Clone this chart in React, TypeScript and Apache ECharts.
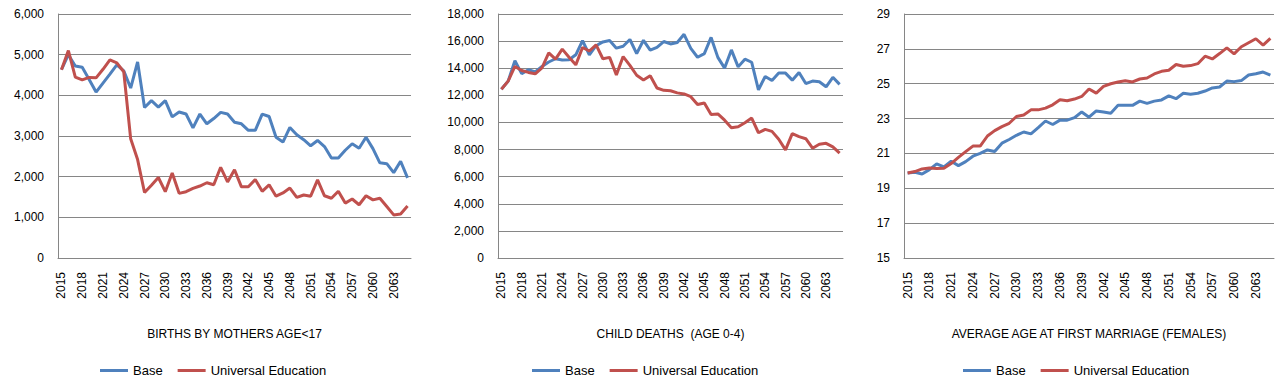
import React, { useEffect, useRef } from "react";
import * as echarts from "echarts";

const years = [
  "2015", "2016", "2017", "2018", "2019", "2020", "2021", "2022", "2023", "2024",
  "2025", "2026", "2027", "2028", "2029", "2030", "2031", "2032", "2033", "2034",
  "2035", "2036", "2037", "2038", "2039", "2040", "2041", "2042", "2043", "2044",
  "2045", "2046", "2047", "2048", "2049", "2050", "2051", "2052", "2053", "2054",
  "2055", "2056", "2057", "2058", "2059", "2060", "2061", "2062", "2063", "2064",
  "2065",
];

const seriesNames = ["Base", "Universal Education"];

const birthsBase = [
  4630, 5000, 4720, 4690, 4390, 4080, 4300, 4520, 4750, 4600,
  4180, 4820, 3700, 3870, 3710, 3870, 3470, 3590, 3540, 3200,
  3540, 3300, 3430, 3580, 3540, 3340, 3300, 3140, 3140, 3540,
  3480, 2970, 2850, 3210, 3030, 2910, 2760, 2890, 2740, 2460,
  2460, 2650, 2810, 2700, 2970, 2690, 2340, 2320, 2100, 2380,
  1970,
];
const birthsUE = [
  4630, 5100, 4450, 4380, 4440, 4430, 4640, 4870, 4800, 4580,
  2930, 2420, 1610, 1790, 1980, 1630, 2090, 1590, 1630, 1710,
  1770, 1850, 1800, 2230, 1870, 2170, 1750, 1750, 1930, 1640,
  1800, 1520, 1600, 1720, 1490, 1550, 1520, 1920, 1530, 1470,
  1640, 1350, 1450, 1310, 1530, 1430, 1470, 1265, 1060, 1080,
  1280,
];

const deathsBase = [
  12450, 13050, 14560, 13600, 13890, 13730, 14130, 14460, 14700, 14600,
  14620, 14990, 16030, 14990, 15660, 15940, 16040, 15480, 15620, 16120,
  15080, 16060, 15330, 15540, 15970, 15790, 15900, 16500, 15470, 14810,
  15080, 16270, 14800, 14010, 15350, 14100, 14670, 14440, 12410, 13390,
  13090, 13640, 13640, 13120, 13690, 12870, 13050, 13000, 12630, 13330,
  12810,
];
const deathsUE = [
  12450, 13050, 14130, 13830, 13690, 13590, 14030, 15130, 14670, 15410,
  14810, 14250, 15530, 15270, 15720, 14700, 14800, 13510, 14860, 14210,
  13480, 13130, 13450, 12540, 12370, 12340, 12180, 12100, 11900, 11320,
  11440, 10590, 10630, 10170, 9610, 9680, 9980, 10320, 9240, 9490,
  9340, 8760, 7980, 9170, 8950, 8800, 8100, 8390, 8460, 8200,
  7730,
];

const marriageBase = [
  19.88, 19.92, 19.82, 20.07, 20.4, 20.23, 20.55, 20.3, 20.53, 20.84,
  21.0, 21.2, 21.11, 21.59, 21.8, 22.04, 22.23, 22.12, 22.48, 22.86,
  22.66, 22.91, 22.91, 23.05, 23.38, 23.08, 23.44, 23.38, 23.31, 23.76,
  23.76, 23.76, 24.0, 23.87, 24.0, 24.07, 24.3, 24.14, 24.45, 24.4,
  24.45, 24.58, 24.76, 24.81, 25.15, 25.12, 25.18, 25.5, 25.57, 25.67,
  25.49,
];
const marriageUE = [
  19.88, 19.96, 20.11, 20.17, 20.13, 20.15, 20.42, 20.77, 21.1, 21.42,
  21.42, 22.0, 22.31, 22.54, 22.73, 23.12, 23.21, 23.5, 23.5, 23.6,
  23.79, 24.08, 24.02, 24.12, 24.27, 24.7, 24.46, 24.85, 25.0, 25.1,
  25.17, 25.1, 25.27, 25.33, 25.56, 25.71, 25.77, 26.1, 26.0, 26.04,
  26.15, 26.58, 26.42, 26.73, 27.06, 26.71, 27.12, 27.35, 27.58, 27.21,
  27.6,
];

const titles = [
  "BIRTHS BY MOTHERS AGE<17",
  "CHILD DEATHS  (AGE 0-4)",
  "AVERAGE AGE AT FIRST MARRIAGE (FEMALES)",
];

const FONT = "'Liberation Sans', Arial, sans-serif";
const GRID_COLOR = "#868686";
const COLORS = ["#4F81BD", "#C0504D"];

const panels = [
  { left: 58, width: 353, min: 0, max: 6000, interval: 1000, base: birthsBase, ue: birthsUE, titleX: 234.5, legendLeft: 100 },
  { left: 498, width: 345, min: 0, max: 18000, interval: 2000, base: deathsBase, ue: deathsUE, titleX: 670.5, legendLeft: 532 },
  { left: 904, width: 370, min: 15, max: 29, interval: 2, base: marriageBase, ue: marriageUE, titleX: 1089, legendLeft: 963 },
];

export default function App() {
  const ref = useRef<HTMLDivElement>(null);

  useEffect(() => {
    if (!ref.current) return;
    const chart = echarts.init(ref.current, null, { renderer: "svg" });

    const option: any = {
      animation: false,
      color: COLORS,
      textStyle: { fontFamily: FONT },
      grid: panels.map((p) => ({ left: p.left, top: 14, width: p.width, height: 244 })),
      xAxis: panels.map((_, i) => ({
        type: "category",
        gridIndex: i,
        data: years,
        boundaryGap: true,
        axisLine: { show: true, lineStyle: { color: GRID_COLOR, width: 1 } },
        axisTick: { show: false },
        axisLabel: {
          interval: 2,
          rotate: 90,
          margin: 14,
          color: "#000",
          fontSize: 12,
          fontFamily: FONT,
        },
        splitLine: { show: false },
      })),
      yAxis: panels.map((p, i) => ({
        type: "value",
        gridIndex: i,
        min: p.min,
        max: p.max,
        interval: p.interval,
        axisLine: { show: true, lineStyle: { color: GRID_COLOR, width: 1 } },
        axisTick: { show: false },
        axisLabel: { margin: 14, color: "#000", fontSize: 12, fontFamily: FONT },
        splitLine: { show: true, lineStyle: { color: GRID_COLOR, width: 1 } },
      })),
      legend: panels.map((p) => ({
        data: seriesNames,
        left: p.legendLeft,
        top: 364,
        icon: "rect",
        itemWidth: 28,
        itemHeight: 3,
        itemGap: 15,
        padding: 0,
        textStyle: { color: "#000", fontSize: 13, fontFamily: FONT },
      })),
      series: panels.flatMap((p, i) => [
        {
          name: seriesNames[0],
          type: "line",
          xAxisIndex: i,
          yAxisIndex: i,
          data: p.base,
          showSymbol: false,
          symbol: "none",
          lineStyle: { width: 3, color: COLORS[0] },
          itemStyle: { color: COLORS[0] },
          z: 2,
        },
        {
          name: seriesNames[1],
          type: "line",
          xAxisIndex: i,
          yAxisIndex: i,
          data: p.ue,
          showSymbol: false,
          symbol: "none",
          lineStyle: { width: 3, color: COLORS[1] },
          itemStyle: { color: COLORS[1] },
          z: 3,
        },
      ]),
      graphic: panels.map((p, i) => ({
        type: "text",
        x: p.titleX,
        y: 334,
        style: {
          text: titles[i],
          textAlign: "center",
          textVerticalAlign: "middle",
          fill: "#000",
          font: `12px ${FONT}`,
        },
      })),
    };

    chart.setOption(option);
    return () => chart.dispose();
  }, []);

  return (
    <div
      ref={ref}
      style={{ position: "absolute", left: 0, top: 0, width: 1286, height: 387, background: "#fff" }}
    />
  );
}
